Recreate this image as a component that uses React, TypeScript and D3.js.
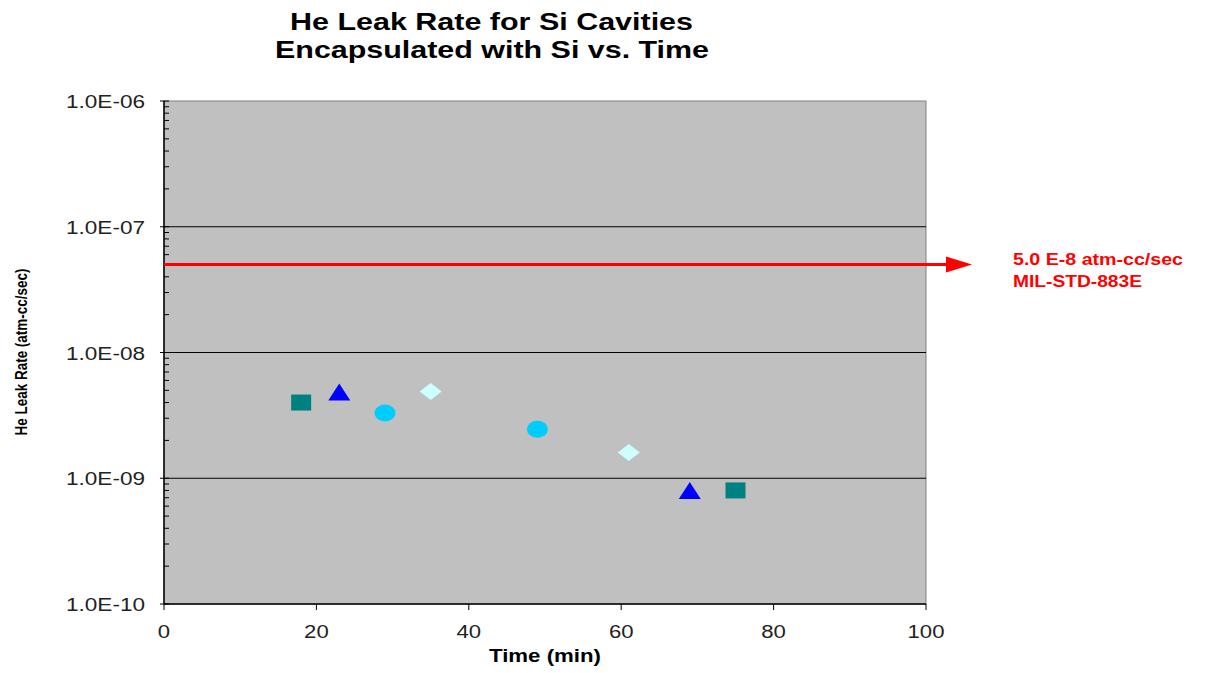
import React from "react";
import * as d3 from "d3";

const squareTimes = [18, 75];
const squareValues = [4.0e-9, 8.0e-10];
const triangleTimes = [23, 69];
const triangleValues = [4.8e-9, 7.9e-10];
const circleTimes = [29, 49];
const circleValues = [3.3e-9, 2.45e-9];
const diamondTimes = [35, 61];
const diamondValues = [4.9e-9, 1.6e-9];
const specLimit = 5e-8;
const xTicks = [0, 20, 40, 60, 80, 100];
const yTicks = [1e-10, 1e-9, 1e-8, 1e-7, 1e-6];
const yTickLabels = ["1.0E-10", "1.0E-09", "1.0E-08", "1.0E-07", "1.0E-06"];

const W = 1220, H = 673;
const L = 164, R = 926, T = 101, B = 604;
const font = "Arial, 'Liberation Sans', sans-serif";

export default function App() {
  const x = d3.scaleLinear().domain([0, 100]).range([L, R]);
  const y = d3.scaleLog().domain([1e-10, 1e-6]).range([B, T]);
  const minor: number[] = [];
  for (let e = -10; e < -6; e++) for (let m = 2; m <= 9; m++) minor.push(m * Math.pow(10, e));
  const hw = 10, hh = 8;
  const sq = squareTimes.map((t, i) => ({ cx: x(t), cy: y(squareValues[i]) }));
  const tri = triangleTimes.map((t, i) => ({ cx: x(t), cy: y(triangleValues[i]) }));
  const cir = circleTimes.map((t, i) => ({ cx: x(t), cy: y(circleValues[i]) }));
  const dia = diamondTimes.map((t, i) => ({ cx: x(t), cy: y(diamondValues[i]) }));
  const ly = y(specLimit);
  return (
    <svg width={W} height={H} style={{ position: "absolute", left: 0, top: 0, background: "#fff" }}>
      <rect x={0} y={0} width={W} height={H} fill="#fff" />
      <text x={290} y={30} textLength={403} lengthAdjust="spacingAndGlyphs" fontFamily={font} fontWeight="bold" fontSize={24}>He Leak Rate for Si Cavities</text>
      <text x={275} y={58} textLength={434} lengthAdjust="spacingAndGlyphs" fontFamily={font} fontWeight="bold" fontSize={24}>Encapsulated with Si vs. Time</text>
      <rect x={L} y={T} width={R - L} height={B - T} fill="#C0C0C0" stroke="#808080" strokeWidth={1} />
      {yTicks.slice(1, 4).map((v) => (
        <line key={v} x1={L} x2={R} y1={y(v)} y2={y(v)} stroke="#000" strokeWidth={1} />
      ))}
      <line x1={L} x2={L} y1={T} y2={B} stroke="#000" strokeWidth={1.5} />
      <line x1={L} x2={R} y1={B} y2={B} stroke="#000" strokeWidth={1.5} />
      {yTicks.map((v) => (
        <line key={"mj" + v} x1={L - 4} x2={L + 5} y1={y(v)} y2={y(v)} stroke="#000" />
      ))}
      {minor.map((v) => (
        <line key={"mn" + v} x1={L} x2={L + 5} y1={y(v)} y2={y(v)} stroke="#000" />
      ))}
      {xTicks.map((t) => (
        <line key={"xt" + t} x1={x(t)} x2={x(t)} y1={B} y2={B + 6} stroke="#000" />
      ))}
      {yTicks.map((v, i) => (
        <text key={"yl" + v} x={145} y={y(v) + 7} textAnchor="end" textLength={79} lengthAdjust="spacingAndGlyphs" fontFamily={font} fontSize={18} fill="#222">{yTickLabels[i]}</text>
      ))}
      {xTicks.map((t) => {
        const s = String(t);
        return (
          <text key={"xl" + t} x={x(t)} y={638} textAnchor="middle" textLength={12.3 * s.length} lengthAdjust="spacingAndGlyphs" fontFamily={font} fontSize={18} fill="#222">{s}</text>
        );
      })}
      <text x={489} y={662} textLength={112} lengthAdjust="spacingAndGlyphs" fontFamily={font} fontWeight="bold" fontSize={19}>Time (min)</text>
      <text transform={`translate(27,352) rotate(-90)`} textAnchor="middle" textLength={167} lengthAdjust="spacingAndGlyphs" fontFamily={font} fontWeight="bold" fontSize={16}>He Leak Rate (atm-cc/sec)</text>
      <line x1={L} x2={950} y1={ly} y2={ly} stroke="#FF0000" strokeWidth={3} />
      <path d={`M946,${ly - 8}L972,${ly}L946,${ly + 8}Z`} fill="#FF0000" />
      <text x={1013} y={265} textLength={170} lengthAdjust="spacingAndGlyphs" fontFamily={font} fontWeight="bold" fontSize={17} fill="#FF0000">5.0 E-8 atm-cc/sec</text>
      <text x={1013} y={287} textLength={129} lengthAdjust="spacingAndGlyphs" fontFamily={font} fontWeight="bold" fontSize={17} fill="#FF0000">MIL-STD-883E</text>
      {sq.map((p, i) => (
        <rect key={"s" + i} x={p.cx - hw} y={p.cy - hh} width={2 * hw} height={2 * hh} fill="#008080" />
      ))}
      {tri.map((p, i) => (
        <path key={"t" + i} d={`M${p.cx},${p.cy - 9}L${p.cx + 11},${p.cy + 8}L${p.cx - 11},${p.cy + 8}Z`} fill="#0000FF" />
      ))}
      {cir.map((p, i) => (
        <ellipse key={"c" + i} cx={p.cx} cy={p.cy} rx={10.5} ry={8.5} fill="#00CCFF" />
      ))}
      {dia.map((p, i) => (
        <path key={"d" + i} d={`M${p.cx},${p.cy - 8.5}L${p.cx + 11},${p.cy}L${p.cx},${p.cy + 8.5}L${p.cx - 11},${p.cy}Z`} fill="#CCFFFF" />
      ))}
    </svg>
  );
}
